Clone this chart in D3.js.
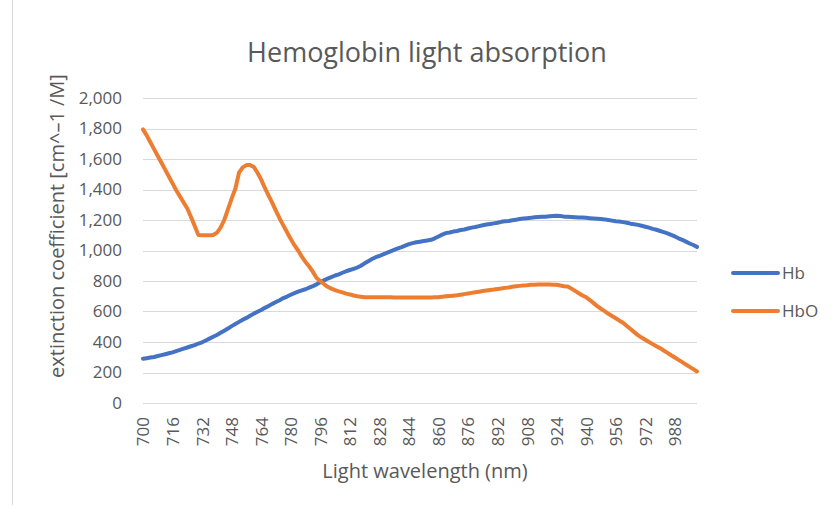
<!DOCTYPE html>
<html>
<head>
<meta charset="utf-8">
<script src="https://cdn.jsdelivr.net/npm/d3@7"></script>
<style>
  body { margin: 0; background: #fff; }
  text { font-family: "Open Sans", sans-serif; fill: #595959; }
</style>
</head>
<body>
<div id="chart"></div>
<script>
// wavelengths, nm (700..1000 every 2 nm)
var wavelengths = d3.range(700, 1001, 2);

var hbValues = [
  290, 294, 298, 302, 308, 314, 320, 326, 332, 340,
  348, 356, 364, 372, 380, 390, 398, 410, 422, 434,
  446, 460, 474, 488, 504, 518, 532, 546, 558, 572,
  586, 598, 610, 624, 636, 650, 662, 674, 688, 698,
  710, 720, 730, 738, 746, 756, 766, 778, 792, 804,
  816, 826, 836, 844, 854, 864, 872, 880, 888, 900,
  916, 930, 944, 956, 964, 974, 984, 994, 1004, 1014,
  1022, 1032, 1042, 1048, 1054, 1058, 1062, 1066, 1070, 1080,
  1092, 1104, 1114, 1118, 1124, 1128, 1134, 1138, 1144, 1150,
  1154, 1160, 1166, 1170, 1174, 1178, 1182, 1188, 1192, 1194,
  1198, 1202, 1206, 1210, 1212, 1214, 1218, 1220, 1222, 1222,
  1224, 1226, 1228, 1226, 1222, 1222, 1220, 1218, 1216, 1216,
  1214, 1212, 1210, 1208, 1206, 1204, 1200, 1196, 1192, 1190,
  1186, 1182, 1176, 1172, 1168, 1162, 1156, 1150, 1142, 1136,
  1128, 1120, 1112, 1102, 1092, 1080, 1070, 1058, 1046, 1036,
  1024
];

var hboValues = [
  1794, 1755, 1710, 1665, 1620, 1575, 1530, 1485, 1440, 1395,
  1355, 1315, 1275, 1220, 1160, 1102, 1100, 1100, 1100, 1102,
  1116, 1150, 1200, 1270, 1340, 1405, 1510, 1545, 1560, 1560,
  1548, 1510, 1465, 1410, 1360, 1312, 1260, 1210, 1165, 1120,
  1075, 1035, 1000, 960, 925, 895, 860, 820, 800, 780,
  762, 750, 740, 732, 725, 717, 712, 705, 700, 697,
  694, 693, 693, 693, 693, 693, 693, 693, 692, 692,
  692, 692, 692, 691, 691, 691, 692, 692, 692, 693,
  694, 697, 700, 702, 704, 706, 710, 714, 718, 722,
  726, 730, 734, 738, 741, 744, 748, 751, 755, 758,
  762, 765, 768, 770, 772, 775, 776, 777, 777, 777,
  777, 776, 775, 770, 766, 764, 750, 735, 720, 705,
  693, 675, 655, 635, 618, 602, 585, 570, 556, 540,
  526, 505, 485, 465, 445, 429, 415, 400, 386, 372,
  360, 344, 329, 313, 298, 283, 268, 252, 237, 222,
  207
];

var seriesNames = ["Hb", "HbO"];
var seriesColors = ["#4472C4", "#ED7D31"];
var yTicks = [0, 200, 400, 600, 800, 1000, 1200, 1400, 1600, 1800, 2000];

var W = 832, H = 505;
var margin = { top: 98, right: 135, bottom: 102, left: 143 };

var svg = d3.select("#chart").append("svg")
  .attr("width", W)
  .attr("height", H);

// faint frame edge on the left
svg.append("line")
  .attr("x1", 12.5).attr("x2", 12.5)
  .attr("y1", 0).attr("y2", H)
  .attr("stroke", "#d9d9d9");

var x = d3.scalePoint()
  .domain(wavelengths)
  .range([margin.left, W - margin.right]);

var y = d3.scaleLinear()
  .domain([0, 2000])
  .range([H - margin.bottom, margin.top]);

// title
svg.append("text")
  .attr("x", 427)
  .attr("y", 62)
  .attr("text-anchor", "middle")
  .style("font-size", "27px")
  .text("Hemoglobin light absorption");

// gridlines
svg.append("g")
  .selectAll("line")
  .data(yTicks)
  .enter().append("line")
  .attr("x1", margin.left)
  .attr("x2", W - margin.right)
  .attr("y1", function (d) { return Math.round(y(d)) + 0.5; })
  .attr("y2", function (d) { return Math.round(y(d)) + 0.5; })
  .attr("stroke", "#d9d9d9")
  .attr("stroke-width", 1);

// y axis labels
var yAxis = d3.axisLeft(y).tickValues(yTicks).tickSize(0).tickPadding(0)
  .tickFormat(d3.format(","));
svg.append("g")
  .attr("transform", "translate(122,0)")
  .call(yAxis)
  .call(function (g) { g.select(".domain").remove(); })
  .selectAll("text")
  .style("font-size", "17px")
  .attr("font-family", null)
  .style("fill", "#595959");

// x axis labels (every 8th category)
var xAxis = d3.axisBottom(x)
  .tickValues(wavelengths.filter(function (d, i) { return i % 8 === 0; }))
  .tickSize(0);
svg.append("g")
  .attr("transform", "translate(0," + (H - margin.bottom) + ")")
  .call(xAxis)
  .call(function (g) { g.select(".domain").remove(); })
  .selectAll("text")
  .style("font-size", "17px")
  .style("fill", "#595959")
  .style("text-anchor", "end")
  .attr("dy", "0.35em")
  .attr("dx", "-14px")
  .attr("y", 0)
  .attr("transform", "rotate(-90)");

// axis titles
svg.append("text")
  .attr("x", 425)
  .attr("y", 478)
  .attr("text-anchor", "middle")
  .style("font-size", "20px")
  .text("Light wavelength (nm)");

svg.append("text")
  .attr("transform", "translate(64,226) rotate(-90)")
  .attr("text-anchor", "middle")
  .style("font-size", "20px")
  .text("extinction coefficient [cm^–1 /M]");

// lines
var lineGen = d3.line()
  .x(function (d) { return x(d.w); })
  .y(function (d) { return y(d.v); });

[hbValues, hboValues].forEach(function (vals, k) {
  var pts = wavelengths.map(function (w, i) { return { w: w, v: vals[i] }; });
  svg.append("path")
    .datum(pts)
    .attr("fill", "none")
    .attr("stroke", seriesColors[k])
    .attr("stroke-width", 4)
    .attr("stroke-linejoin", "round")
    .attr("stroke-linecap", "round")
    .attr("d", lineGen);
});

// legend
var legend = svg.append("g");
seriesNames.forEach(function (name, k) {
  var ly = 273 + k * 38;
  legend.append("line")
    .attr("x1", 733).attr("x2", 778)
    .attr("y1", ly).attr("y2", ly)
    .attr("stroke", seriesColors[k])
    .attr("stroke-width", 4)
    .attr("stroke-linecap", "round");
  legend.append("text")
    .attr("x", 782)
    .attr("y", ly)
    .attr("dy", "0.35em")
    .style("font-size", "17px")
    .text(name);
});
</script>
</body>
</html>
